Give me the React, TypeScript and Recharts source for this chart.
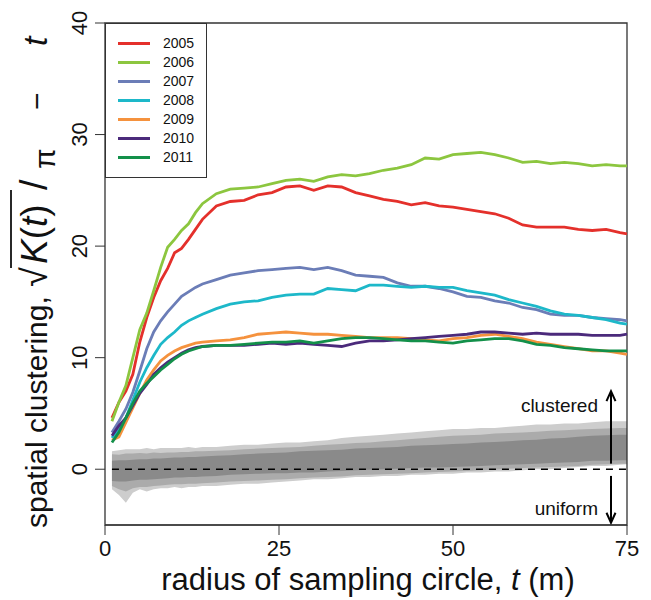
import React from "react";
import {
    ComposedChart,
    Line,
    Area,
    XAxis,
    YAxis,
    ReferenceLine,
    ReferenceArea,
    Legend,
} from "recharts";

// radius of sampling circle (m)
const T = [1, 2, 3, 4, 5, 6, 7, 8, 9, 10, 11, 12, 13, 14, 16, 18, 20, 22, 24, 26, 28, 30, 32, 34, 36, 38, 40, 42, 44, 46, 48, 50, 52, 54, 56, 58, 60, 62, 64, 66, 68, 70, 72, 74, 75];

const Y2005 = [4.6, 6.0, 7.0, 8.5, 11.4, 13.6, 15.4, 16.9, 18.0, 19.4, 19.8, 20.6, 21.5, 22.4, 23.6, 24.0, 24.1, 24.6, 24.8, 25.3, 25.4, 25.0, 25.4, 25.3, 24.8, 24.5, 24.2, 24.0, 23.7, 23.9, 23.6, 23.5, 23.3, 23.1, 22.9, 22.5, 21.9, 21.7, 21.7, 21.7, 21.5, 21.4, 21.5, 21.2, 21.1];
const Y2006 = [4.3, 6.0, 7.5, 10.0, 12.5, 14.0, 16.0, 18.1, 19.9, 20.6, 21.4, 22.0, 23.0, 23.8, 24.7, 25.1, 25.2, 25.3, 25.6, 25.9, 26.0, 25.8, 26.2, 26.4, 26.3, 26.5, 26.8, 27.0, 27.3, 27.9, 27.8, 28.2, 28.3, 28.4, 28.2, 27.9, 27.5, 27.6, 27.4, 27.5, 27.4, 27.2, 27.3, 27.2, 27.2];
const Y2007 = [3.3, 4.3, 5.4, 6.9, 8.8, 10.8, 12.3, 13.3, 14.1, 14.8, 15.5, 15.9, 16.3, 16.6, 17.0, 17.4, 17.6, 17.8, 17.9, 18.0, 18.1, 17.9, 18.1, 17.8, 17.4, 17.3, 17.2, 16.7, 16.4, 16.4, 16.2, 15.9, 15.5, 15.4, 15.1, 14.9, 14.5, 14.3, 13.9, 13.8, 13.8, 13.6, 13.5, 13.4, 13.3];
const Y2008 = [2.8, 3.5, 4.6, 6.2, 7.8, 9.1, 10.2, 11.2, 11.8, 12.3, 12.9, 13.3, 13.6, 13.9, 14.4, 14.8, 15.0, 15.1, 15.4, 15.6, 15.7, 15.7, 16.2, 16.1, 16.0, 16.5, 16.5, 16.4, 16.3, 16.4, 16.3, 16.3, 16.0, 15.8, 15.6, 15.2, 14.9, 14.6, 14.2, 13.9, 13.8, 13.6, 13.4, 13.1, 13.0];
const Y2009 = [2.6, 2.9, 4.2, 5.5, 6.8, 8.0, 8.9, 9.7, 10.2, 10.6, 10.9, 11.1, 11.3, 11.4, 11.5, 11.6, 11.8, 12.1, 12.2, 12.3, 12.2, 12.1, 12.1, 12.0, 11.9, 11.8, 11.8, 11.8, 11.7, 11.6, 11.5, 11.7, 11.8, 12.0, 12.1, 11.9, 11.7, 11.4, 11.2, 11.0, 10.8, 10.6, 10.6, 10.4, 10.3];
const Y2010 = [3.0, 3.9, 4.6, 5.7, 6.8, 7.6, 8.5, 9.1, 9.6, 10.0, 10.4, 10.7, 10.9, 11.0, 11.1, 11.1, 11.1, 11.2, 11.3, 11.2, 11.3, 11.2, 11.1, 11.0, 11.3, 11.5, 11.5, 11.6, 11.7, 11.8, 11.9, 12.0, 12.1, 12.3, 12.3, 12.2, 12.1, 12.2, 12.1, 12.1, 12.1, 12.0, 12.0, 12.0, 12.1];
const Y2011 = [2.4, 3.3, 4.6, 5.9, 7.0, 7.7, 8.3, 8.9, 9.4, 9.9, 10.3, 10.6, 10.8, 11.0, 11.1, 11.1, 11.2, 11.3, 11.4, 11.4, 11.5, 11.3, 11.5, 11.7, 11.8, 11.8, 11.7, 11.6, 11.5, 11.5, 11.4, 11.3, 11.5, 11.6, 11.7, 11.7, 11.5, 11.2, 11.1, 10.9, 10.8, 10.7, 10.6, 10.6, 10.6];

// null-model envelopes (grey bands)
const OUTER_LO = [-1.8, -2.3, -3.0, -2.1, -1.8, -2.0, -1.8, -1.7, -1.7, -1.6, -1.7, -1.6, -1.6, -1.5, -1.5, -1.4, -1.3, -1.3, -1.2, -1.1, -1.0, -0.9, -0.9, -0.8, -0.7, -0.7, -0.6, -0.6, -0.5, -0.5, -0.4, -0.4, -0.3, -0.3, -0.2, -0.2, -0.1, 0.0, 0.0, 0.1, 0.2, 0.3, 0.3, 0.4, 0.45];
const OUTER_HI = [1.6, 1.7, 1.8, 1.8, 1.8, 1.9, 1.8, 1.9, 1.9, 1.9, 1.9, 2.0, 1.9, 2.0, 2.0, 2.1, 2.2, 2.2, 2.3, 2.4, 2.4, 2.5, 2.6, 2.8, 2.9, 3.0, 3.1, 3.2, 3.3, 3.4, 3.5, 3.6, 3.6, 3.7, 3.7, 3.8, 3.9, 4.0, 4.0, 4.1, 4.1, 4.2, 4.3, 4.3, 4.3];
const MID_LO = [-1.5, -1.8, -2.0, -1.7, -1.6, -1.6, -1.5, -1.45, -1.4, -1.35, -1.35, -1.3, -1.3, -1.25, -1.2, -1.1, -1.05, -1.0, -0.95, -0.9, -0.8, -0.75, -0.7, -0.65, -0.55, -0.5, -0.45, -0.4, -0.35, -0.3, -0.25, -0.2, -0.15, -0.1, -0.05, 0.05, 0.1, 0.15, 0.2, 0.25, 0.3, 0.4, 0.45, 0.5, 0.5];
const MID_HI = [1.35, 1.3, 1.4, 1.4, 1.45, 1.4, 1.5, 1.45, 1.5, 1.5, 1.55, 1.55, 1.6, 1.6, 1.65, 1.7, 1.8, 1.85, 1.9, 1.95, 2.0, 2.1, 2.2, 2.25, 2.35, 2.4, 2.5, 2.6, 2.7, 2.8, 2.9, 3.0, 3.05, 3.1, 3.2, 3.25, 3.3, 3.35, 3.45, 3.5, 3.55, 3.6, 3.65, 3.7, 3.7];
const CORE_LO = [-1.05, -1.1, -1.1, -1.0, -0.95, -0.95, -0.9, -0.85, -0.8, -0.75, -0.75, -0.7, -0.7, -0.65, -0.6, -0.5, -0.45, -0.4, -0.35, -0.35, -0.3, -0.3, -0.2, -0.15, -0.1, -0.05, 0.0, 0.05, 0.1, 0.15, 0.15, 0.2, 0.25, 0.3, 0.35, 0.4, 0.45, 0.5, 0.55, 0.6, 0.65, 0.75, 0.75, 0.8, 0.8];
const CORE_HI = [0.75, 0.8, 0.8, 0.85, 0.9, 0.9, 0.95, 0.95, 1.0, 1.05, 1.05, 1.1, 1.1, 1.15, 1.2, 1.25, 1.35, 1.4, 1.45, 1.5, 1.6, 1.65, 1.7, 1.75, 1.85, 1.9, 1.95, 2.0, 2.1, 2.15, 2.2, 2.25, 2.3, 2.4, 2.45, 2.5, 2.6, 2.65, 2.75, 2.8, 2.9, 3.0, 3.05, 3.1, 3.1];

const YEARS = ["2005", "2006", "2007", "2008", "2009", "2010", "2011"];
const SERIES = [Y2005, Y2006, Y2007, Y2008, Y2009, Y2010, Y2011];
const COLORS = ["#e4302b", "#8cc63f", "#6b7db7", "#1db8c9", "#f5923e", "#4b2a7b", "#13904a"];

const X_TICKS = [0, 25, 50, 75];
const Y_TICKS = [0, 10, 20, 30, 40];

const FONT = "'Liberation Sans', Arial, Helvetica, sans-serif";

const data = T.map((t, i) => {
    const row: Record<string, any> = {
        t,
        outer: [OUTER_LO[i], OUTER_HI[i]],
        mid: [MID_LO[i], MID_HI[i]],
        core: [CORE_LO[i], CORE_HI[i]],
    };
    YEARS.forEach((y, k) => {
        row[y] = SERIES[k][i];
    });
    return row;
});

const XTick = ({ x, y, payload }: any) => (
    <text x={x} y={y + 19} textAnchor="middle" fontSize={22} fontFamily={FONT} fill="#111">
        {payload.value}
    </text>
);

const YTick = ({ x, y, payload }: any) => (
    <text
        x={x - 6}
        y={y}
        transform={`rotate(-90 ${x - 6} ${y})`}
        textAnchor="middle"
        fontSize={22}
        fontFamily={FONT}
        fill="#111"
    >
        {payload.value}
    </text>
);

const XTitle = () => (
    <text x={368} y={590} textAnchor="middle" fontSize={31} fontFamily={FONT} fill="#111">
        radius of sampling circle, <tspan fontStyle="italic">t</tspan> (m)
    </text>
);

// rotated frame: origin at the start of the label, text runs upwards
const YTitle = () => (
    <g transform="translate(47 528) rotate(-90)" fontFamily={FONT} fill="#111">
        <text x={0} y={0} fontSize={30}>spatial clustering,</text>
        <text x={241} y={0} fontSize={36}>√</text>
        <line x1={260} x2={338} y1={-36} y2={-36} stroke="#111" strokeWidth={1.8} />
        <text x={264} y={0} fontSize={37}>
            <tspan fontStyle="italic">K</tspan>(<tspan fontStyle="italic">t</tspan>)
        </text>
        <text x={338} y={0} fontSize={38}>/</text>
        <text x={359} y={8} fontSize={30}>π</text>
        <text x={418} y={0} fontSize={30}>−</text>
        <text x={482} y={0} fontSize={34} fontStyle="italic">t</text>
    </g>
);

const arrowShape = (text: string, textDy: number) => (props: any) => {
    const { x1, y1, x2, y2 } = props;
    const dir = y2 < y1 ? 1 : -1;
    return (
        <g>
            <line x1={x1} y1={y1} x2={x2} y2={y2} stroke="#000" strokeWidth={2} />
            <polyline
                points={`${x2 - 4.5},${y2 + dir * 10} ${x2},${y2} ${x2 + 4.5},${y2 + dir * 10}`}
                fill="none"
                stroke="#000"
                strokeWidth={2}
            />
            <text x={x2 - 13} y={y2 + textDy} textAnchor="end" fontSize={19} fontFamily={FONT} fill="#111">
                {text}
            </text>
        </g>
    );
};

const LegendBox = ({ payload }: any) => {
    const items = (payload || []).filter((p: any) => p.type !== "none");
    return (
        <div
            style={{
                border: "1px solid #333",
                background: "#fff",
                width: 102,
                height: 155,
                boxSizing: "border-box",
                paddingTop: 10,
                fontFamily: FONT,
                fontSize: 14,
                color: "#111",
            }}
        >
            {items.map((p: any) => (
                <div key={p.value} style={{ display: "flex", alignItems: "center", height: 19 }}>
                    <span style={{ display: "inline-block", marginLeft: 12, width: 32, height: 3, background: p.color }} />
                    <span style={{ marginLeft: 13, lineHeight: "19px" }}>{p.value}</span>
                </div>
            ))}
        </div>
    );
};

export default function App() {
    return (
        <div style={{ position: "absolute", left: 0, top: 0, width: 651, height: 600, background: "#fff" }}>
            <ComposedChart width={651} height={600} data={data} margin={{ top: 23, right: 24, bottom: 0, left: 0 }}>
                <XAxis
                    dataKey="t"
                    type="number"
                    domain={[0, 75]}
                    ticks={X_TICKS}
                    height={75}
                    tickSize={10}
                    tick={<XTick />}
                    axisLine={{ stroke: "#333" }}
                    tickLine={{ stroke: "#333" }}
                    label={<XTitle />}
                />
                <YAxis
                    type="number"
                    domain={[-5, 40]}
                    ticks={Y_TICKS}
                    width={105}
                    tickSize={10}
                    tick={<YTick />}
                    axisLine={false}
                    tickLine={{ stroke: "#333" }}
                    label={<YTitle />}
                />
                <Area dataKey="outer" type="linear" stroke="none" fill="#cdcdcd" fillOpacity={1} legendType="none" isAnimationActive={false} />
                <Area dataKey="mid" type="linear" stroke="none" fill="#ababab" fillOpacity={1} legendType="none" isAnimationActive={false} />
                <Area dataKey="core" type="linear" stroke="none" fill="#8a8a8a" fillOpacity={1} legendType="none" isAnimationActive={false} />
                <ReferenceLine
                    segment={[{ x: 1, y: 0 }, { x: 75, y: 0 }]}
                    stroke="#000"
                    strokeWidth={1.5}
                    strokeDasharray="7 6"
                />
                {YEARS.map((y, k) => (
                    <Line
                        key={y}
                        dataKey={y}
                        name={y}
                        type="linear"
                        stroke={COLORS[k]}
                        strokeWidth={2.8}
                        dot={false}
                        isAnimationActive={false}
                    />
                ))}
                <ReferenceLine segment={[{ x: 72.7, y: 0.5 }, { x: 72.7, y: 7 }]} shape={arrowShape("clustered", 21)} />
                <ReferenceLine segment={[{ x: 72.7, y: -0.6 }, { x: 72.7, y: -4.8 }]} shape={arrowShape("uniform", -8)} />
                <ReferenceArea x1={0} x2={75} y1={-5} y2={40} fill="none" stroke="#333" strokeWidth={1.3} ifOverflow="visible" />
                <Legend
                    layout="vertical"
                    align="center"
                    verticalAlign="middle"
                    wrapperStyle={{ left: 105, top: 23, width: "auto", height: "auto" }}
                    content={<LegendBox />}
                />
            </ComposedChart>
        </div>
    );
}
